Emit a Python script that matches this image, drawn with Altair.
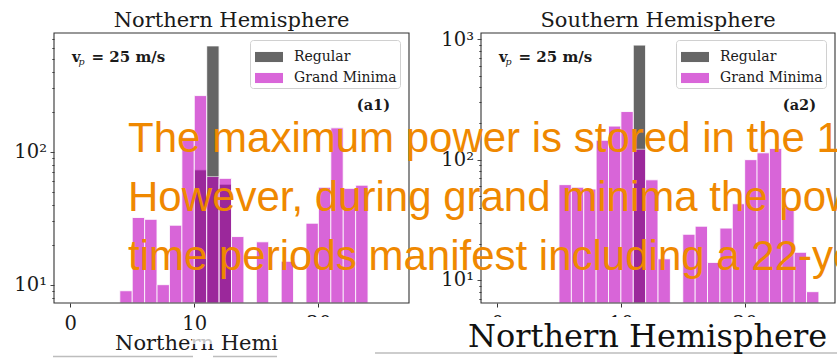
import altair as alt
import pandas as pd

# ---- data: integer-wide histogram bins from 0 to 26 ----
bin_edges = list(range(0, 27))

north_regular = [0, 0, 0, 0, 0, 0, 0, 0, 0, 0, 73, 624, 57, 0, 0, 0, 0, 0, 0, 0, 0, 0, 0, 0, 0, 0]
north_grand_minima = [0, 0, 0, 0, 9, 32, 31, 10, 28, 127, 264, 65, 63, 23, 0, 21, 0, 15, 0, 29, 54, 151, 53, 56, 0, 0]
south_regular = [0, 0, 0, 0, 0, 0, 0, 0, 0, 0, 0, 895, 0, 0, 0, 0, 0, 0, 0, 0, 0, 0, 0, 0, 0, 0]
south_grand_minima = [0, 0, 0, 0, 0, 62, 59, 57, 145, 190, 251, 122, 68, 15, 0, 24, 28, 14, 27, 43, 100, 114, 124, 40, 17, 8]

series_names = ["Regular", "Grand Minima"]
series_colors = ["#000000", "#bf00bf"]
panel_titles = ["Northern Hemisphere", "Southern Hemisphere"]
panel_tags = ["(a1)", "(a2)"]
x_ticks = [0, 10, 20]
north_y_ticks = [8, 9, 10, 20, 30, 40, 50, 60, 70, 80, 90, 100, 200, 300, 400, 500, 600, 700]
south_y_ticks = [7, 8, 9, 10, 20, 30, 40, 50, 60, 70, 80, 90, 100, 200, 300, 400, 500, 600, 700, 800, 900, 1000]
north_y_domain = [7.28, 780]
south_y_domain = [6.44, 1128]
x_domain = [-1.3, 27.3]

caption = ("The maximum power is stored in the 11-year cycle.\n"
           "However, during grand minima the power spreads and longer\n"
           "time periods manifest including a 22-year cycle.")

# ---- layout (pixels) ----
W, H = 837, 358
PLOT_TOP, PLOT_BOTTOM = 33, 303
NORTH_X = [54, 409]
SOUTH_X = [481, 835]
SERIF = "DejaVu Serif"
INK = "#1a1a1a"
SPINE = "#333333"
# legend patch: 28 x 10 px rectangle, nudged right inside the legend frame
RECT_PATH = "M-0.857,-0.36L1.143,-0.36L1.143,0.36L-0.857,0.36Z"

MAJOR_TEST = "datum.value == 10 || datum.value == 100 || datum.value == 1000"
LOG_LABELS = ("datum.value == 10 ? '10¹' : datum.value == 100 ? '10²' : "
              "datum.value == 1000 ? '10³' : ''")


def hist_table(regular, grand):
    rows = []
    for name, counts in ((series_names[0], regular), (series_names[1], grand)):
        for i, c in enumerate(counts):
            if c > 0:
                rows.append({"lo": bin_edges[i], "hi": bin_edges[i + 1], "count": c, "series": name})
    return pd.DataFrame(rows)


def panel(df, x_range, y_domain, y_ticks, legend_x):
    xs = alt.Scale(domain=x_domain, range=x_range, nice=False, zero=False)
    ys = alt.Scale(type="log", domain=y_domain, range=[PLOT_BOTTOM, PLOT_TOP], nice=False)
    x_axis = alt.Axis(orient="bottom", offset=PLOT_BOTTOM - H, values=x_ticks, format="d",
                      tickSize=4, tickColor=SPINE, tickWidth=1, labelPadding=7,
                      labelFont=SERIF, labelFontSize=19.5, labelColor=INK, labelFlush=False,
                      domain=False, grid=False, title=None, zindex=0)
    y_axis = alt.Axis(orient="left", offset=-x_range[0], values=y_ticks, labelExpr=LOG_LABELS,
                      tickSize={"condition": {"test": MAJOR_TEST, "value": 4}, "value": 2.2},
                      tickColor=SPINE, tickWidth=0.9, labelPadding=3.5,
                      labelFont=SERIF, labelFontSize=19.5, labelColor=INK,
                      labelOverlap=False, labelFlush=False,
                      domain=False, grid=False, title=None, zindex=0)
    bars = alt.Chart(df).mark_bar(opacity=0.6, stroke="white", strokeWidth=0.9).encode(
        x=alt.X("lo:Q", scale=xs, axis=x_axis),
        x2="hi:Q",
        y=alt.Y("count:Q", scale=ys, axis=y_axis, stack=None),
        y2=alt.datum(y_domain[0]),
        color=alt.Color(
            "series:N",
            scale=alt.Scale(domain=series_names, range=series_colors),
            legend=alt.Legend(title=None, orient="none", legendX=legend_x, legendY=40,
                              direction="vertical", symbolType=RECT_PATH, symbolSize=784,
                              symbolOpacity=0.6, symbolStrokeWidth=0,
                              labelFont=SERIF, labelFontSize=14, labelColor=INK,
                              labelOffset=13, padding=3, rowPadding=0,
                              strokeColor="#d0d0d0", fillColor="white", cornerRadius=3),
        ),
    )
    frame = alt.Chart(pd.DataFrame({"k": [0]})).mark_rect(
        filled=False, color=SPINE, strokeWidth=1.1
    ).encode(
        x=alt.datum(x_domain[0]), x2=alt.datum(x_domain[1]),
        y=alt.datum(y_domain[0]), y2=alt.datum(y_domain[1]),
    )
    return alt.layer(bars, frame)


def label(text, x, y, size, color=INK, font=SERIF, weight="normal", style="normal",
          align="left", **kw):
    return alt.Chart(pd.DataFrame({"t": [text]})).mark_text(
        font=font, fontSize=size, fontWeight=weight, fontStyle=style, align=align,
        baseline="alphabetic", color=color, **kw
    ).encode(x=alt.value(x), y=alt.value(y), text="t:N")


def box(x0, x1, y0, y1, color="white", opacity=1.0):
    return alt.Chart(pd.DataFrame({"k": [0]})).mark_rect(color=color, opacity=opacity).encode(
        x=alt.value(x0), x2=alt.value(x1), y=alt.value(y0), y2=alt.value(y1))


def hline(x0, x1, y, color="#bdbdbd", width=1.5):
    return alt.Chart(pd.DataFrame({"k": [0]})).mark_rule(color=color, strokeWidth=width).encode(
        x=alt.value(x0), x2=alt.value(x1), y=alt.value(y))


north = panel(hist_table(north_regular, north_grand_minima), NORTH_X, north_y_domain, north_y_ticks, 250)
south = panel(hist_table(south_regular, south_grand_minima), SOUTH_X, south_y_domain, south_y_ticks, 676)

decor = []
for title, tag, xr in zip(panel_titles, panel_tags, (NORTH_X, SOUTH_X)):
    mid = (xr[0] + xr[1]) / 2
    decor.append(label(title, mid, 27, 21, align="center"))
    decor.append(label("v", xr[0] + 18, 62, 14.5, weight="bold"))
    decor.append(label("p", xr[0] + 24.5, 64.5, 9.5, style="italic"))
    decor.append(label("= 25 m/s", xr[0] + 37.5, 62, 15, weight="bold"))
    decor.append(label(tag, xr[1] - 19, 110, 14.5, weight="bold", align="right"))

# lower strip: next-row heading, cut by the overlaid caption card
decor += [
    label("Northern Hemisphere", 115, 350, 21),
    box(192, 213, 333, 344, opacity=0.75),
    box(278, W, 317, H),
    hline(53, 193, 356.5),
    hline(213, 277, 356.5),
    hline(375, W, 353),
    label("Northern Hemisphere", 468, 347, 32, color="#111111"),
    label(caption, 128, 151.7, 42, color="#EF8800", font="Liberation Sans",
          lineBreak="\n", lineHeight=59),
]

chart = alt.layer(north, south, *decor).resolve_scale(
    x="independent", y="independent", color="independent"
).properties(
    width=W, height=H, padding=0, background="white",
    autosize=alt.AutoSizeParams(type="none"),
).configure_view(strokeWidth=0)

chart.save("out.html", embed_options={"renderer": "svg", "actions": False})
